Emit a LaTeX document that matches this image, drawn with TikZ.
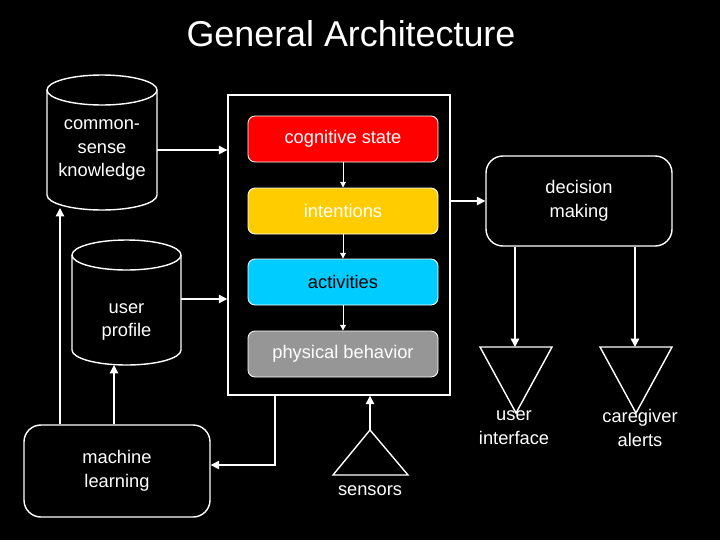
\documentclass[tikz,border=0pt]{standalone}
\usepackage{fontspec}
\setmainfont{Liberation Sans}
\usetikzlibrary{arrows.meta}
\definecolor{cogred}{RGB}{255,0,0}
\definecolor{intyellow}{RGB}{255,204,0}
\definecolor{actblue}{RGB}{0,204,255}
\definecolor{physgray}{RGB}{150,150,150}
\begin{document}
\begin{tikzpicture}[x=0.025cm,y=-0.025cm,
    every node/.style={text=white,font=\fontsize{13}{17}\selectfont,align=center},
    line/.style={draw=white,line width=1pt},
    arr/.style={line,-{Triangle[length=6pt,width=6pt]}},
    layer/.style={rounded corners=5pt,draw=white,line width=0.6pt,minimum width=190*0.025cm,minimum height=46*0.025cm,anchor=center},
    box/.style={rounded corners=12pt,draw=white,line width=1pt,fill=black,minimum width=186*0.025cm,minimum height=90*0.025cm},
    ghost/.style={inner sep=0pt,minimum width=#1}]
  \fill[black] (0,0) rectangle (720,540);
  \useasboundingbox (0,0) rectangle (720,540);

  \node[font=\fontsize{25.5}{28}\selectfont] (title) at (351,34) {General Architecture};

  % central block
  \node[draw=white,line width=1pt,minimum width=222*0.025cm,minimum height=300*0.025cm] (core) at (339,245) {};
  \node[layer,fill=cogred] (cog) at (343,139) {cognitive state};
  \node[layer,fill=intyellow] (int) at (343,211) {intentions};
  \node[layer,fill=actblue] (act) at (343,282) {\textcolor{black}{activities}};
  \node[layer,fill=physgray] (phys) at (343,354) {physical behavior};
  \draw[arr,line width=0.6pt,-{Triangle[length=4pt,width=4pt]}] (cog) -- (int);
  \draw[arr,line width=0.6pt,-{Triangle[length=4pt,width=4pt]}] (int) -- (act);
  \draw[arr,line width=0.6pt,-{Triangle[length=4pt,width=4pt]}] (act) -- (phys);

  % cylinders
  \draw[line,fill=black] (47,90) -- (47,195) arc[start angle=180,end angle=0,x radius=55,y radius=15]
     -- (157,90) arc[start angle=0,end angle=-180,x radius=55,y radius=15];
  \draw[line] (47,90) arc[start angle=180,end angle=0,x radius=55,y radius=15];
  \node[ghost=110*0.025cm,minimum height=135*0.025cm] (csk) at (102,150) {common-\\sense\\knowledge};

  \draw[line,fill=black] (72,255) -- (72,350) arc[start angle=180,end angle=0,x radius=54.5,y radius=15]
     -- (181,255) arc[start angle=0,end angle=-180,x radius=54.5,y radius=15];
  \draw[line] (72,255) arc[start angle=180,end angle=0,x radius=54.5,y radius=15];
  \node[ghost=109*0.025cm,minimum height=86*0.025cm] (prof) at (126.5,322) {user\\profile};

  \draw[arr] (csk.east |- 0,150) -- (core.west |- 0,150);
  \draw[arr] (prof.east |- 0,299) -- (core.west |- 0,299);

  % decision making and outputs
  \node[box] (dec) at (579,201) {decision\\making};
  \draw[arr] (core.east |- dec) -- (dec);

  \coordinate (ui) at (515,347);
  \coordinate (cg) at (635,347);
  \draw[line] (480,347) -- (552,347) -- (516,413) -- cycle;
  \draw[line] (600,347) -- (672,347) -- (636,413) -- cycle;
  \draw[arr] (dec.south -| ui) -- (ui);
  \draw[arr] (dec.south -| cg) -- (cg);
  \node (uit) at (514,428) {user\\interface};
  \node (cgt) at (640,428) {caregiver\\alerts};

  % sensors
  \coordinate (sen) at (370,430);
  \draw[line] (333,475) -- (408,475) -- (370,430) -- cycle;
  \node (sent) at (370,491) {sensors};
  \draw[arr] (sen) -- (core.south -| sen);

  % machine learning
  \node[box,minimum width=186*0.025cm,minimum height=92*0.025cm] (ml) at (117,471) {machine\\learning};
  \draw[arr] (core.south -| 275,0) |- (ml.east |- 0,465);
  \draw[arr] (ml.north -| 114,0) -- (114,365);
  \draw[arr] (ml.north -| 60,0) -- (60,208);
\end{tikzpicture}
\end{document}
